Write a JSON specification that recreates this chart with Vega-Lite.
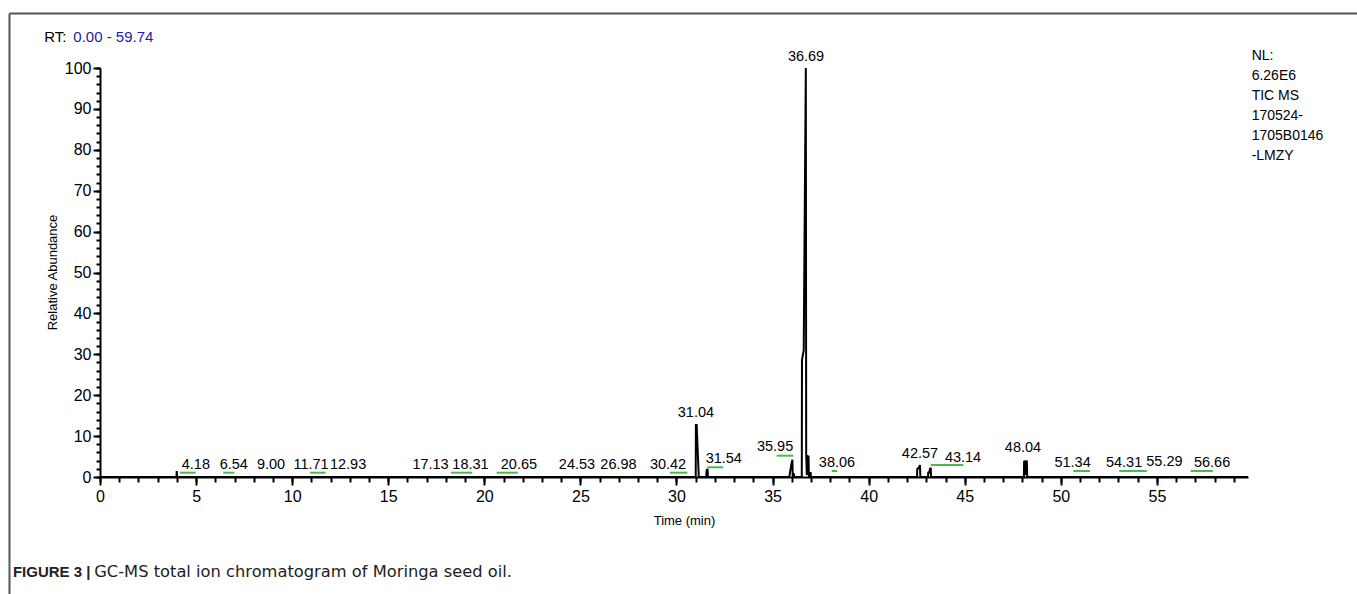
{
  "$schema": "https://vega.github.io/schema/vega-lite/v6.json",
  "width": 1148,
  "height": 409,
  "autosize": "none",
  "padding": {"left": 100, "top": 68, "right": 109, "bottom": 117},
  "background": "white",
  "config": {
    "view": {"stroke": null},
    "font": "Liberation Sans",
    "axis": {
      "grid": false,
      "domainColor": "#000000",
      "domainWidth": 2,
      "tickColor": "#000000",
      "tickWidth": 2,
      "labelFont": "Liberation Sans",
      "labelFontSize": 16,
      "labelColor": "#000000",
      "titleFont": "Liberation Sans",
      "titleFontSize": 13,
      "titleFontWeight": "normal",
      "titleColor": "#000000",
      "labelOverlap": false,
      "labelFlush": false
    }
  },
  "resolve": {"axis": {"x": "independent", "y": "independent"}},
  "layer": [
    {
      "data": {"values": [
        {"t": 0.0, "a": 0}, {"t": 3.98, "a": 0}, {"t": 3.99, "a": 1.2}, {"t": 4.0, "a": 1.2}, {"t": 4.01, "a": 0},
        {"t": 31.0, "a": 0}, {"t": 31.01, "a": 12.7}, {"t": 31.05, "a": 12.7}, {"t": 31.16, "a": 0},
        {"t": 31.55, "a": 0}, {"t": 31.56, "a": 1.2}, {"t": 31.58, "a": 1.8}, {"t": 31.62, "a": 1.8}, {"t": 31.63, "a": 0},
        {"t": 35.87, "a": 0}, {"t": 35.98, "a": 3.2}, {"t": 36.03, "a": 4.2}, {"t": 36.05, "a": 0},
        {"t": 36.1, "a": 0}, {"t": 36.11, "a": 0.9}, {"t": 36.12, "a": 0},
        {"t": 36.52, "a": 0}, {"t": 36.53, "a": 28.6}, {"t": 36.62, "a": 31}, {"t": 36.73, "a": 100},
        {"t": 36.75, "a": 5.4}, {"t": 36.78, "a": 0.5}, {"t": 36.81, "a": 5.4}, {"t": 36.84, "a": 0.5}, {"t": 36.87, "a": 5.2}, {"t": 36.89, "a": 0},
        {"t": 36.97, "a": 0}, {"t": 36.98, "a": 1.2}, {"t": 36.99, "a": 0},
        {"t": 42.52, "a": 0}, {"t": 42.53, "a": 2.0}, {"t": 42.6, "a": 2.2}, {"t": 42.67, "a": 2.9}, {"t": 42.69, "a": 0},
        {"t": 43.09, "a": 0}, {"t": 43.1, "a": 1.05}, {"t": 43.14, "a": 1.05}, {"t": 43.2, "a": 2.1}, {"t": 43.23, "a": 2.1}, {"t": 43.25, "a": 0},
        {"t": 48.08, "a": 0}, {"t": 48.09, "a": 4.0}, {"t": 48.13, "a": 0.5}, {"t": 48.16, "a": 4.1}, {"t": 48.2, "a": 0.5}, {"t": 48.23, "a": 4.0}, {"t": 48.25, "a": 0},
        {"t": 59.74, "a": 0}
      ]},
      "mark": {"type": "line", "color": "#000000", "strokeWidth": 2, "interpolate": "linear"},
      "encoding": {
        "x": {
          "field": "t", "type": "quantitative",
          "scale": {"domain": [0, 59.74], "nice": false, "zero": false},
          "axis": {
            "orient": "bottom",
            "title": "Time (min)",
            "values": [0,5,10,15,20,25,30,35,40,45,50,55],
            "tickSize": 8,
            "labelPadding": 3,
            "titleX": 584,
            "titleY": 43,
            "titleAlign": "center",
            "titleBaseline": "middle"
          }
        },
        "y": {
          "field": "a", "type": "quantitative",
          "scale": {"domain": [0, 100], "nice": false, "zero": false},
          "axis": {
            "orient": "left",
            "title": "Relative Abundance",
            "values": [0,10,20,30,40,50,60,70,80,90,100],
            "tickSize": 7,
            "labelPadding": 2,
            "titleX": -48,
            "titleY": 204,
            "titleAngle": 270,
            "titleAlign": "center",
            "titleBaseline": "middle"
          }
        }
      }
    },
    {
      "data": {"values": [
        {"x1": 4.16, "x2": 4.98, "y": 1.05},
        {"x1": 6.42, "x2": 6.99, "y": 1.05},
        {"x1": 10.93, "x2": 11.74, "y": 1.05},
        {"x1": 18.27, "x2": 19.37, "y": 1.05},
        {"x1": 20.64, "x2": 21.74, "y": 1.05},
        {"x1": 29.66, "x2": 30.56, "y": 1.05},
        {"x1": 31.6, "x2": 32.43, "y": 2.37},
        {"x1": 35.21, "x2": 36.08, "y": 5.21},
        {"x1": 38.08, "x2": 38.37, "y": 1.47},
        {"x1": 43.23, "x2": 44.92, "y": 2.93},
        {"x1": 50.65, "x2": 51.52, "y": 1.47},
        {"x1": 53.04, "x2": 54.47, "y": 1.47},
        {"x1": 56.76, "x2": 57.9, "y": 1.47}
      ]},
      "mark": {"type": "rule", "color": "#4cb84c", "strokeWidth": 2},
      "encoding": {
        "x": {
          "field": "x1", "type": "quantitative",
          "scale": {"domain": [0, 59.74], "nice": false, "zero": false},
          "axis": {
            "orient": "bottom",
            "title": null,
            "values": [0,1,2,3,4,5,6,7,8,9,10,11,12,13,14,15,16,17,18,19,20,21,22,23,24,25,26,27,28,29,30,31,32,33,34,35,36,37,38,39,40,41,42,43,44,45,46,47,48,49,50,51,52,53,54,55,56,57,58,59],
            "labels": false,
            "domain": false,
            "tickSize": 5
          }
        },
        "x2": {"field": "x2"},
        "y": {
          "field": "y", "type": "quantitative",
          "scale": {"domain": [0, 100], "nice": false, "zero": false},
          "axis": {
            "orient": "left",
            "title": null,
            "values": [0,2,4,6,8,10,12,14,16,18,20,22,24,26,28,30,32,34,36,38,40,42,44,46,48,50,52,54,56,58,60,62,64,66,68,70,72,74,76,78,80,82,84,86,88,90,92,94,96,98,100],
            "labels": false,
            "domain": false,
            "tickSize": 4
          }
        }
      }
    },
    {
      "data": {"values": [
        {"label": "4.18", "x": 4.99, "y": 2.93},
        {"label": "6.54", "x": 6.96, "y": 2.93},
        {"label": "9.00", "x": 8.9, "y": 2.93},
        {"label": "11.71", "x": 10.98, "y": 2.93},
        {"label": "12.93", "x": 12.91, "y": 2.93},
        {"label": "17.13", "x": 17.2, "y": 2.93},
        {"label": "18.31", "x": 19.28, "y": 2.93},
        {"label": "20.65", "x": 21.8, "y": 2.93},
        {"label": "24.53", "x": 24.82, "y": 2.93},
        {"label": "26.98", "x": 26.98, "y": 2.93},
        {"label": "30.42", "x": 29.56, "y": 2.93},
        {"label": "31.04", "x": 31.01, "y": 15.65},
        {"label": "31.54", "x": 32.46, "y": 4.33},
        {"label": "35.95", "x": 35.13, "y": 7.26},
        {"label": "36.69", "x": 36.74, "y": 102.7},
        {"label": "38.06", "x": 38.35, "y": 3.35},
        {"label": "42.57", "x": 42.67, "y": 5.62},
        {"label": "43.14", "x": 44.91, "y": 4.57},
        {"label": "48.04", "x": 48.03, "y": 7.02},
        {"label": "51.34", "x": 50.61, "y": 3.35},
        {"label": "54.31", "x": 53.29, "y": 3.42},
        {"label": "55.29", "x": 55.39, "y": 3.74},
        {"label": "56.66", "x": 57.87, "y": 3.42}
      ]},
      "mark": {"type": "text", "font": "Liberation Sans", "fontSize": 14.5, "color": "#000000", "align": "center", "baseline": "middle"},
      "encoding": {
        "x": {"field": "x", "type": "quantitative", "scale": {"domain": [0, 59.74], "nice": false, "zero": false}, "axis": null},
        "y": {"field": "y", "type": "quantitative", "scale": {"domain": [0, 100], "nice": false, "zero": false}, "axis": null},
        "text": {"field": "label"}
      }
    },
    {
      "data": {"values": [{}]},
      "mark": {"type": "rule", "color": "#555555", "strokeWidth": 2},
      "encoding": {
        "x": {"datum": -4.71, "type": "quantitative", "axis": null},
        "x2": {"datum": 66},
        "y": {"datum": 113.3, "type": "quantitative", "axis": null}
      }
    },
    {
      "data": {"values": [{}]},
      "mark": {"type": "rule", "color": "#555555", "strokeWidth": 2},
      "encoding": {
        "x": {"datum": -4.71, "type": "quantitative", "axis": null},
        "y": {"datum": 113.3, "type": "quantitative", "axis": null},
        "y2": {"datum": -30}
      }
    },
    {
      "data": {"values": [{}]},
      "mark": {"type": "text", "text": "RT:", "font": "Liberation Sans", "fontSize": 15, "color": "#000000", "align": "left", "baseline": "middle"},
      "encoding": {
        "x": {"datum": -2.9, "type": "quantitative", "axis": null},
        "y": {"datum": 107.65, "type": "quantitative", "axis": null}
      }
    },
    {
      "data": {"values": [{}]},
      "mark": {"type": "text", "text": "0.00 - 59.74", "font": "Liberation Sans", "fontSize": 15, "color": "#1c1ca8", "align": "left", "baseline": "middle"},
      "encoding": {
        "x": {"datum": -1.39, "type": "quantitative", "axis": null},
        "y": {"datum": 107.65, "type": "quantitative", "axis": null}
      }
    },
    {
      "data": {"values": [{}]},
      "mark": {"type": "text", "text": ["NL:", "6.26E6", "TIC MS", "170524-", "1705B0146", "-LMZY"], "lineHeight": 20, "font": "Liberation Sans", "fontSize": 14, "color": "#000000", "align": "left", "baseline": "top"},
      "encoding": {
        "x": {"datum": 59.93, "type": "quantitative", "axis": null},
        "y": {"datum": 104.6, "type": "quantitative", "axis": null}
      }
    },
    {
      "data": {"values": [{}]},
      "mark": {"type": "text", "text": "FIGURE 3 |", "font": "Liberation Sans", "fontSize": 15, "fontWeight": "bold", "color": "#222222", "align": "left", "baseline": "middle"},
      "encoding": {
        "x": {"datum": -4.53, "type": "quantitative", "axis": null},
        "y": {"datum": -23.15, "type": "quantitative", "axis": null}
      }
    },
    {
      "data": {"values": [{}]},
      "mark": {"type": "text", "text": "GC-MS total ion chromatogram of Moringa seed oil.", "font": "DejaVu Sans", "fontSize": 16.3, "color": "#222222", "align": "left", "baseline": "middle"},
      "encoding": {
        "x": {"datum": -0.3, "type": "quantitative", "axis": null},
        "y": {"datum": -23.15, "type": "quantitative", "axis": null}
      }
    }
  ]
}
